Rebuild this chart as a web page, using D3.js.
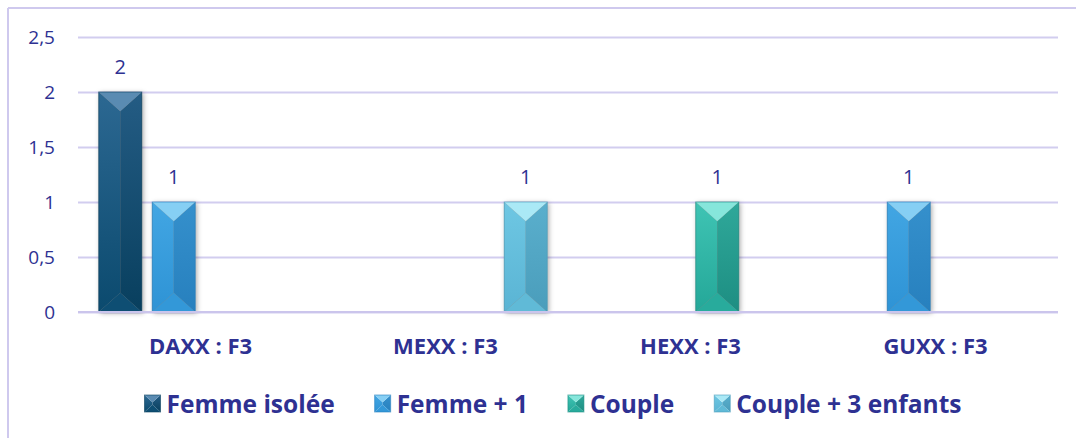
<!DOCTYPE html>
<html>
<head>
<meta charset="utf-8">
<script src="https://cdn.jsdelivr.net/npm/d3@7/dist/d3.min.js"></script>
<style>
  html, body { margin: 0; padding: 0; background: #ffffff; }
  svg { display: block; }
  text { font-family: "Open Sans", "Liberation Sans", sans-serif; fill: #2E3192; }
</style>
</head>
<body>
<svg id="chart" width="1076" height="438"></svg>
<script>
// ---- data ----
const categories = ["DAXX : F3", "MEXX : F3", "HEXX : F3", "GUXX : F3"];
const seriesNames = ["Femme isolée", "Femme + 1", "Couple", "Couple + 3 enfants"];
const femmeIsolee = [2, null, null, null];
const femmePlus1 = [1, null, null, 1];
const couple = [null, null, 1, null];
const couplePlus3 = [null, 1, null, null];
const yTicks = [0, 0.5, 1, 1.5, 2, 2.5];

const seriesValues = [femmeIsolee, femmePlus1, couple, couplePlus3];

// ---- styles ----
const palettes = [
  { top: "#5A8BB2", l0: "#2C6892", l1: "#0B4A6E", r0: "#245C84", r1: "#083F5E", bot: "#0E4E73" },
  { top: "#86CFF4", l0: "#42A6E3", l1: "#2E93D5", r0: "#3590CC", r1: "#2780BE", bot: "#3398D8" },
  { top: "#86E6DB", l0: "#3FC4B4", l1: "#24A798", r0: "#2FA89A", r1: "#1D8E82", bot: "#28AB9C" },
  { top: "#AAE9F6", l0: "#6EC7E3", l1: "#5AB4D4", r0: "#5AAFCD", r1: "#4A9DBB", bot: "#60BAD7" }
];
const textColor = "#2E3192";
const gridColor = "#D2CDEF";

const svg = d3.select("#chart");
const W = 1076, H = 438;
const plot = { left: 78, right: 1058, top: 37, bottom: 312 };

const defs = svg.append("defs");
const filt = defs.append("filter").attr("id", "shadow")
  .attr("x", "-40%").attr("y", "-10%").attr("width", "180%").attr("height", "120%");
filt.append("feDropShadow").attr("dx", 1.5).attr("dy", 1).attr("stdDeviation", 2.5)
  .attr("flood-color", "#000").attr("flood-opacity", 0.35);

palettes.forEach((p, i) => {
  const gl = defs.append("linearGradient").attr("id", "gl" + i)
    .attr("x1", 0).attr("y1", 0).attr("x2", 0).attr("y2", 1);
  gl.append("stop").attr("offset", "0%").attr("stop-color", p.l0);
  gl.append("stop").attr("offset", "100%").attr("stop-color", p.l1);
  const gr = defs.append("linearGradient").attr("id", "gr" + i)
    .attr("x1", 0).attr("y1", 0).attr("x2", 0).attr("y2", 1);
  gr.append("stop").attr("offset", "0%").attr("stop-color", p.r0);
  gr.append("stop").attr("offset", "100%").attr("stop-color", p.r1);
});

// border (top and left only, like the cropped original)
svg.append("line").attr("x1", 8).attr("x2", W).attr("y1", 8).attr("y2", 8)
  .attr("stroke", "#CFC9EE").attr("stroke-width", 2);
svg.append("line").attr("x1", 8).attr("x2", 8).attr("y1", 8).attr("y2", H)
  .attr("stroke", "#CFC9EE").attr("stroke-width", 2);

// scales
const y = d3.scaleLinear().domain([0, 2.5]).range([plot.bottom, plot.top]);
const x0 = d3.scaleBand().domain(categories).range([plot.left, plot.right]).padding(0);
const x1 = d3.scaleBand().domain(seriesNames).range([0, x0.bandwidth()])
  .paddingInner(0.196).paddingOuter(0.388);

// gridlines + y axis labels
const fmt = v => String(v).replace(".", ",");
const yAxis = d3.axisLeft(y).tickValues(yTicks).tickFormat(fmt)
  .tickSize(-(plot.right - plot.left)).tickPadding(23);
const gy = svg.append("g").attr("transform", `translate(${plot.left},0)`).call(yAxis);
gy.select(".domain").remove();
gy.selectAll(".tick line").attr("stroke", gridColor).attr("stroke-width", 2);
gy.selectAll(".tick text").attr("fill", textColor)
  .style("font-size", "19px").style("font-family", '"Open Sans", sans-serif');

// category labels
const xAxis = d3.axisBottom(x0).tickSize(0).tickPadding(0);
const gx = svg.append("g").attr("transform", `translate(0,${plot.bottom})`).call(xAxis);
gx.select(".domain").remove();
gx.selectAll(".tick text").attr("fill", textColor).attr("dy", null).attr("y", 42)
  .style("font-size", "22px").style("font-weight", "bold")
  .style("font-family", '"Open Sans", sans-serif');

// bevel bar shape
function drawBevel(g, x, yTop, w, h, i) {
  const p = palettes[i];
  const d = Math.min(w * 0.45, h / 2);
  const cx = x + w / 2, yb = yTop + h;
  const grp = g.append("g");
  const shape = (pts, fill) => grp.append("polygon")
    .attr("points", pts.map(q => q.join(",")).join(" ")).attr("fill", fill);
  shape([[x, yTop], [cx, yTop + d], [cx, yb - d], [x, yb]], `url(#gl${i})`);
  shape([[x + w, yTop], [cx, yTop + d], [cx, yb - d], [x + w, yb]], `url(#gr${i})`);
  shape([[x, yTop], [x + w, yTop], [cx, yTop + d]], p.top);
  shape([[x, yb], [x + w, yb], [cx, yb - d]], p.bot);
  grp.append("rect").attr("x", x).attr("y", yTop).attr("width", w).attr("height", h)
    .attr("fill", "none").attr("stroke", p.r1).attr("stroke-opacity", 0.6).attr("stroke-width", 1);
  return grp;
}

// bars
const barsG = svg.append("g");
seriesValues.forEach((vals, si) => {
  vals.forEach((v, ci) => {
    if (v == null) return;
    const bx = x0(categories[ci]) + x1(seriesNames[si]);
    const by = y(v);
    const bw = x1.bandwidth();
    const bh = y(0) - y(v);
    barsG.append("rect").attr("x", bx).attr("y", by)
      .attr("width", bw).attr("height", bh).attr("fill", "#888").attr("filter", "url(#shadow)");
    drawBevel(barsG, bx, by, bw, bh, si);
    svg.append("text").attr("x", bx + bw / 2).attr("y", by - 18)
      .attr("text-anchor", "middle").attr("fill", textColor)
      .style("font-size", "20px").text(fmt(v));
  });
});

// x axis baseline redrawn over bars bottom
svg.append("line").attr("x1", plot.left).attr("x2", plot.right)
  .attr("y1", y(0)).attr("y2", y(0)).attr("stroke", "#CBC5EC").attr("stroke-width", 2);

// legend
const legend = svg.append("g");
const legendY = 413;
const items = seriesNames.map((name, i) => {
  const g = legend.append("g");
  const t = g.append("text").attr("x", 22).attr("y", 0)
    .style("font-size", "24.5px").style("font-weight", "bold").attr("fill", textColor).text(name);
  const tw = t.node().getComputedTextLength();
  drawBevel(g, 0, -18, 16, 17, i);
  return { g, w: 22 + tw };
});
const gap = 40;
const total = d3.sum(items, d => d.w) + gap * (items.length - 1);
let lx = 553 - total / 2;
items.forEach(it => {
  it.g.attr("transform", `translate(${lx},${legendY})`);
  lx += it.w + gap;
});
</script>
</body>
</html>
